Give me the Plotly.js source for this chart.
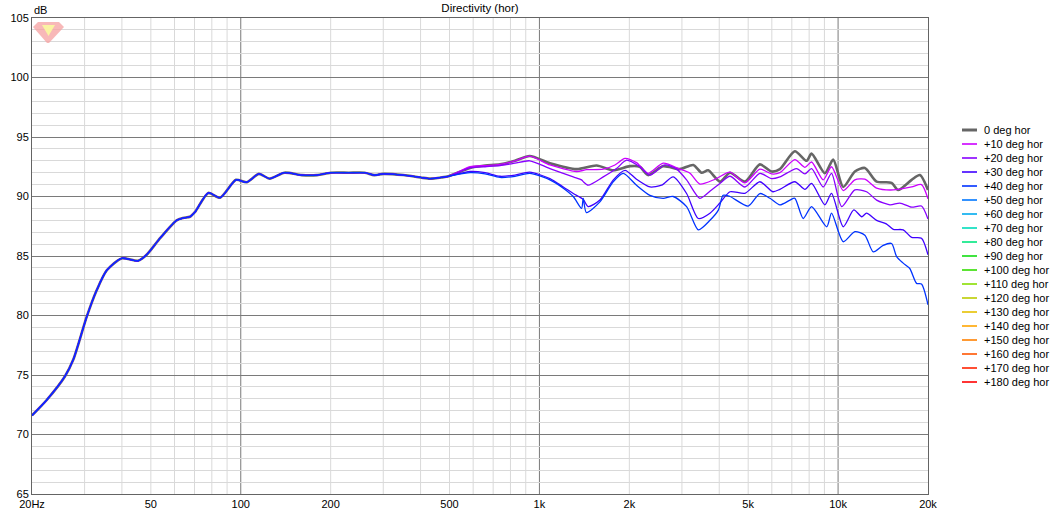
<!DOCTYPE html>
<html><head><meta charset="utf-8">
<script src="https://cdn.plot.ly/plotly-3.0.1.min.js"></script>
<style>html,body{margin:0;padding:0;background:#fff;}#chart{width:1058px;height:513px;}</style>
</head><body><div id="chart"></div>
<script>
// ---- data (Hz, dB) ----
const freqLow = [20, 22.4, 25.8, 27.5, 30.5, 32.9, 35.6, 39.9, 45.3, 48.4, 53.7, 61, 64.2, 67.6, 70.3, 77.9, 85.3, 96.4, 104.6, 115, 125, 140, 160, 180, 200, 230, 260, 280, 300, 350, 400, 430, 470];
const dbLow   = [71.6, 72.9, 74.9, 76.3, 79.9, 82.1, 83.8, 84.8, 84.6, 85.1, 86.5, 88.0, 88.2, 88.3, 88.7, 90.3, 89.9, 91.4, 91.2, 91.9, 91.5, 92.0, 91.8, 91.8, 92.0, 92.0, 92.0, 91.8, 91.9, 91.8, 91.6, 91.5, 91.6];

const freq0 = [496, 586, 658, 738, 828, 928, 1084, 1332, 1554, 1768, 2010, 2168, 2312, 2596, 2952, 3274, 3492, 3674, 4020, 4346, 4876, 5472, 5986, 6384, 7164, 7846, 8152, 9030, 9630, 10406, 11382, 12292, 13458, 15104, 15888, 17628, 18794, 20000];
const db0   = [91.7, 92.4, 92.6, 92.7, 93.0, 93.4, 92.8, 92.3, 92.6, 92.2, 92.55, 92.5, 91.8, 92.55, 92.3, 92.65, 92.0, 92.2, 91.25, 92.0, 91.25, 92.7, 92.1, 92.3, 93.8, 93.0, 93.6, 91.95, 93.1, 90.8, 92.1, 92.4, 91.25, 91.15, 90.55, 91.4, 91.8, 90.55];

const freq10 = [496, 586, 658, 738, 828, 928, 1084, 1332, 1438, 1636, 1790, 1934, 2114, 2312, 2596, 2952, 3192, 3444, 3872, 4346, 4876, 5472, 5986, 6384, 7164, 7746, 8152, 8914, 9506, 10406, 11382, 12292, 13458, 15306, 17628, 19024, 20000];
const db10   = [91.7, 92.5, 92.6, 92.7, 93.0, 93.4, 92.65, 92.1, 92.25, 92.3, 92.65, 93.2, 92.85, 91.95, 92.8, 92.3, 91.95, 91.05, 91.45, 92.05, 91.15, 92.3, 91.9, 92.0, 93.1, 92.45, 92.9, 91.4, 92.5, 90.5, 91.4, 91.45, 90.7, 90.55, 90.8, 91.0, 89.8];

const freq20 = [496, 586, 658, 738, 828, 928, 1084, 1298, 1384, 1402, 1456, 1636, 1812, 1958, 2168, 2344, 2630, 2878, 3110, 3444, 3768, 4020, 4346, 4876, 5472, 5986, 6384, 7262, 7746, 8152, 8914, 9506, 10280, 11382, 12452, 13458, 14912, 16108, 17628, 19024, 20000];
const db20   = [91.7, 92.4, 92.5, 92.6, 92.8, 93.0, 92.35, 91.65, 91.4, 91.25, 90.95, 91.65, 92.35, 93.05, 92.5, 91.8, 92.65, 92.3, 91.4, 89.85, 90.55, 91.1, 91.7, 90.8, 91.95, 91.5, 91.65, 92.35, 91.9, 92.35, 90.8, 91.95, 89.15, 90.55, 90.4, 89.7, 89.3, 89.45, 89.1, 89.2, 88.1];

const freq30 = [496, 586, 658, 738, 828, 928, 1084, 1202, 1298, 1402, 1456, 1594, 1768, 1934, 2114, 2344, 2564, 2804, 3110, 3404, 3724, 4020, 4346, 4876, 5472, 6050, 6384, 7164, 7746, 8152, 9030, 9506, 10406, 11290, 12000, 12452, 13458, 14500, 15306, 16520, 17628, 19024, 20000];
const db30   = [91.7, 92.1, 92.0, 91.7, 91.8, 92.05, 91.5, 90.8, 90.25, 89.75, 89.15, 89.7, 91.4, 92.2, 91.45, 90.8, 90.95, 91.65, 90.25, 88.15, 88.6, 89.45, 90.4, 90.27, 91.24, 90.4, 90.6, 91.24, 90.6, 91.1, 89.3, 90.27, 87.46, 88.87, 88.3, 88.6, 88.0, 87.7, 87.24, 87.2, 86.57, 86.5, 85.1];

const freq40 = [496, 586, 658, 738, 828, 928, 1084, 1202, 1298, 1384, 1402, 1436, 1594, 1768, 1908, 2114, 2344, 2596, 2804, 3110, 3404, 3724, 3972, 4122, 4346, 5000, 5472, 5916, 6384, 6902, 7164, 7642, 8152, 9162, 9506, 10406, 11382, 12292, 13112, 14160, 15104, 15704, 16520, 17380, 18310, 19024, 20000];
const db40   = [91.7, 92.0, 91.9, 91.6, 91.7, 91.95, 91.4, 90.7, 90.0, 89.0, 89.85, 88.65, 89.55, 91.25, 91.95, 90.95, 90.1, 89.85, 90.0, 89.15, 87.2, 88.0, 88.85, 90.1, 90.0, 89.2, 90.25, 89.85, 89.3, 89.7, 89.85, 88.15, 89.15, 87.45, 88.6, 86.2, 87.05, 86.75, 85.35, 85.9, 86.05, 84.95, 84.4, 83.95, 82.7, 82.65, 80.9];

const seriesNames = ['0 deg hor', '+10 deg hor', '+20 deg hor', '+30 deg hor', '+40 deg hor', '+50 deg hor', '+60 deg hor', '+70 deg hor', '+80 deg hor', '+90 deg hor', '+100 deg hor', '+110 deg hor', '+120 deg hor', '+130 deg hor', '+140 deg hor', '+150 deg hor', '+160 deg hor', '+170 deg hor', '+180 deg hor'];
const seriesColors = ['#666666', '#cc00ff', '#8800ff', '#3f00ff', '#0033ff', '#0077ff', '#00aaee', '#00ddbb', '#00e680', '#11dd11', '#33dd00', '#88dd00', '#bbcc00', '#e6c000', '#ffa500', '#ff8000', '#ff5500', '#ff2200', '#ff0000'];

const xTickVals = [20, 50, 100, 200, 500, 1000, 2000, 5000, 10000, 20000];
const xTickText = ['20Hz', '50', '100', '200', '500', '1k', '2k', '5k', '10k', '20k'];
const yTickVals = [65, 70, 75, 80, 85, 90, 95, 100, 105];

// ---- build traces ----
const hiSets = [[freq0, db0], [freq10, db10], [freq20, db20], [freq30, db30], [freq40, db40]];
const traces = hiSets.map((s, i) => ({
  type: 'scatter', mode: 'lines',
  x: freqLow.concat(s[0]), y: dbLow.concat(s[1]),
  name: seriesNames[i], showlegend: false, hoverinfo: 'skip',
  line: {color: seriesColors[i], width: i === 0 ? 2.6 : 1.3, shape: 'spline', smoothing: 0.7}
}));

// ---- layout helpers (pixel -> paper) ----
const L = 32, T = 18, W = 896, H = 476;
const px = v => (v - L) / W;
const py = v => (T + H - v) / H;
const lx = f => (Math.log10(f) - Math.log10(20)) / 3;

const shapes = [];
// vertical grid lines
[10, 100, 1000, 10000].forEach(d => {
  for (let m = 1; m <= 9; m++) {
    const v = m * d;
    if (v <= 20 || v >= 20000) continue;
    const major = (m === 1);
    shapes.push({type: 'line', xref: 'paper', yref: 'paper', x0: lx(v), x1: lx(v), y0: 0, y1: 1,
      layer: 'below', line: {color: major ? '#7a7a7a' : '#d9d9d9', width: 1}});
  }
});
// custom legend
const annotations = [];
seriesNames.forEach((n, i) => {
  const yy = py(130 + 14 * i);
  shapes.push({type: 'line', xref: 'paper', yref: 'paper', x0: px(962), x1: px(977), y0: yy, y1: yy,
    line: {color: seriesColors[i], width: i === 0 ? 3 : 1.6}});
  annotations.push({xref: 'paper', yref: 'paper', x: px(982), y: yy, xanchor: 'left', yanchor: 'middle',
    text: n, showarrow: false, font: {family: 'Liberation Sans, Arial, sans-serif', size: 11, color: '#000'}});
});
// dB label
annotations.push({xref: 'paper', yref: 'paper', x: px(32), y: py(10), xanchor: 'left', yanchor: 'middle',
  text: 'dB', showarrow: false, font: {family: 'Liberation Sans, Arial, sans-serif', size: 11, color: '#000'}});
// logo
const pth = pts => 'M' + pts.map(p => px(p[0]) + ',' + py(p[1])).join(' L') + ' Z';
shapes.push({type: 'path', xref: 'paper', yref: 'paper', path: pth([[38, 22], [59, 22], [64, 27], [49, 43], [47, 43], [33, 27]]),
  fillcolor: 'rgba(245,160,160,0.75)', line: {width: 0}});
shapes.push({type: 'path', xref: 'paper', yref: 'paper', path: pth([[42, 25], [55, 25], [48.5, 36]]),
  fillcolor: 'rgba(250,245,160,0.95)', line: {width: 0}});

const layout = {
  width: 1058, height: 513,
  margin: {l: L, r: 1058 - L - W, t: T, b: 513 - T - H},
  paper_bgcolor: '#fff', plot_bgcolor: '#fff',
  showlegend: false,
  font: {family: 'Liberation Sans, Arial, sans-serif', size: 11, color: '#000'},
  title: {text: 'Directivity (hor)', x: px(480), xref: 'paper', xanchor: 'center', y: 1 - 8 / 513, yanchor: 'middle',
    font: {family: 'Liberation Sans, Arial, sans-serif', size: 11.5, color: '#000'}},
  xaxis: {type: 'log', range: [Math.log10(20), Math.log10(20000)], tickmode: 'array', tickvals: xTickVals, ticktext: xTickText,
    showgrid: false, zeroline: false, showline: true, mirror: true, linecolor: '#646464', linewidth: 1, ticks: '',
    tickfont: {size: 11}, fixedrange: true},
  yaxis: {range: [65, 105], tickmode: 'array', tickvals: yTickVals, showgrid: true, gridcolor: '#7a7a7a', gridwidth: 1,
    minor: {dtick: 1, showgrid: true, gridcolor: '#d9d9d9', gridwidth: 1},
    zeroline: false, showline: true, mirror: true, linecolor: '#646464', linewidth: 1, ticks: '',
    tickfont: {size: 11}, fixedrange: true},
  shapes: shapes, annotations: annotations
};
Plotly.newPlot('chart', traces, layout, {staticPlot: true, displayModeBar: false});
</script></body></html>
